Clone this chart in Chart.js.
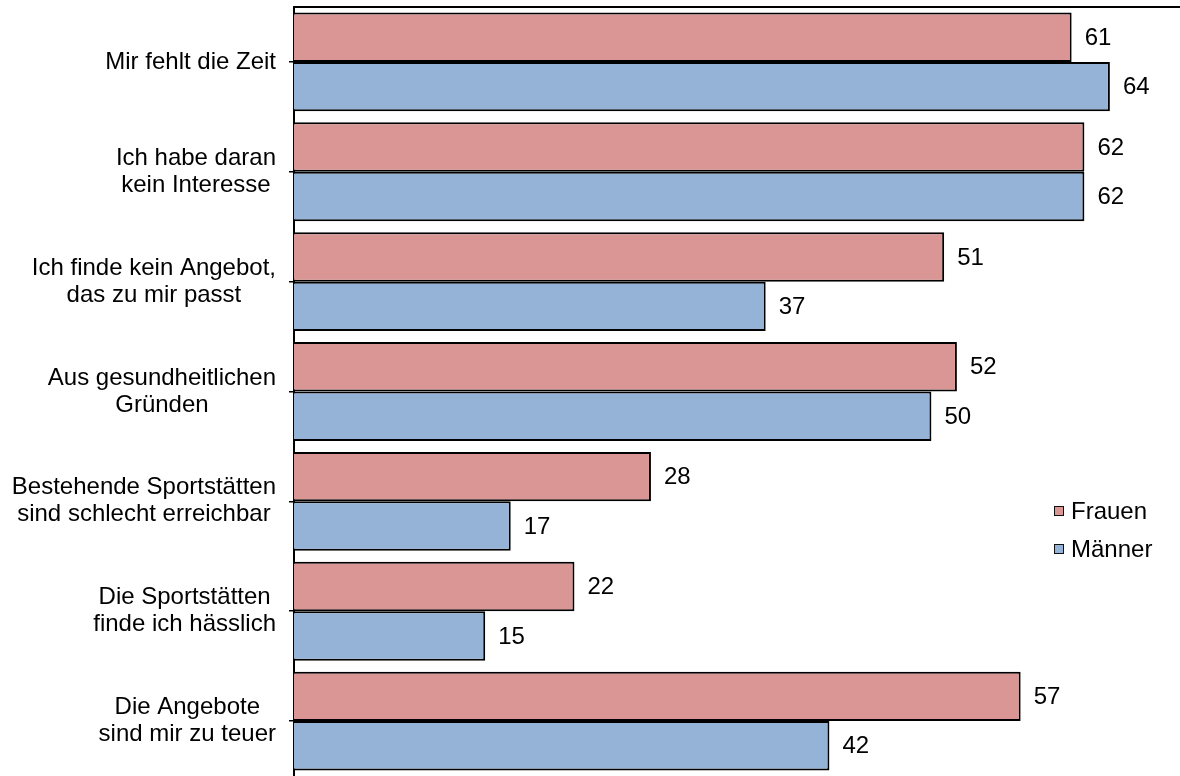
<!DOCTYPE html>
<html lang="de">
<head>
<meta charset="utf-8">
<title>Gründe gegen Sport</title>
<script src="https://cdn.jsdelivr.net/npm/chart.js@4/dist/chart.umd.min.js"></script>
<style>
  html, body { margin: 0; padding: 0; background: #fff; overflow: hidden; }
  #c { display: block; }
</style>
</head>
<body>
<canvas id="c" width="1180" height="776"></canvas>
<script>
// Reasons given, one entry per category (each entry is a list of label lines)
const categories = [
  ["Mir fehlt die Zeit"],
  ["Ich habe daran", "kein Interesse"],
  ["Ich finde kein Angebot,", "das zu mir passt"],
  ["Aus gesundheitlichen", "Gründen"],
  ["Bestehende Sportstätten", "sind schlecht erreichbar"],
  ["Die Sportstätten", "finde ich hässlich"],
  ["Die Angebote", "sind mir zu teuer"]
];
const seriesNames = ["Frauen", "Männer"];
const frauen = [61, 62, 51, 52, 28, 22, 57];
const maenner = [64, 62, 37, 50, 17, 15, 42];

const FONT = '"Liberation Sans", Arial, sans-serif';
const COLORS = ["#D99694", "#95B3D7"];

// Multi-line category labels: lines centred on each other, block right-aligned to the axis
const categoryLabels = {
  id: 'categoryLabels',
  afterDraw(chart) {
    const ctx = chart.ctx;
    const y = chart.scales.y;
    const right = 276;
    const lineH = 27;
    ctx.save();
    ctx.font = '24px ' + FONT;
    ctx.fillStyle = '#000';
    ctx.textAlign = 'center';
    ctx.textBaseline = 'middle';
    categories.forEach((lines, i) => {
      const cy = y.getPixelForTick(i);
      const maxW = Math.max(...lines.map(l => ctx.measureText(l).width));
      const cx = right - maxW / 2;
      const top = cy - (lines.length - 1) * lineH / 2;
      lines.forEach((l, k) => ctx.fillText(l, cx, top + k * lineH));
    });
    ctx.restore();
  }
};

// Value printed just past the end of each bar
const valueLabels = {
  id: 'valueLabels',
  afterDatasetsDraw(chart) {
    const ctx = chart.ctx;
    ctx.save();
    ctx.font = '24px ' + FONT;
    ctx.fillStyle = '#000';
    ctx.textAlign = 'left';
    ctx.textBaseline = 'middle';
    chart.data.datasets.forEach((ds, di) => {
      const meta = chart.getDatasetMeta(di);
      meta.data.forEach((bar, i) => {
        ctx.fillText(String(ds.data[i]), bar.x + 13, bar.y + 1);
      });
    });
    ctx.restore();
  }
};

// Small legend with square swatches inside the plot, lower right
const swatchLegend = {
  id: 'swatchLegend',
  afterDraw(chart) {
    const ctx = chart.ctx;
    const x0 = 1054, size = 10, textX = 1071;
    const ys = [511, 549];
    ctx.save();
    ctx.font = '24px ' + FONT;
    ctx.textAlign = 'left';
    ctx.textBaseline = 'middle';
    chart.data.datasets.forEach((ds, i) => {
      const cy = ys[i];
      ctx.fillStyle = ds.backgroundColor;
      ctx.fillRect(x0, cy - size / 2, size, size);
      ctx.strokeStyle = '#111';
      ctx.lineWidth = 1;
      ctx.strokeRect(x0 + 0.5, cy - size / 2 + 0.5, size - 1, size - 1);
      ctx.fillStyle = '#000';
      ctx.fillText(ds.label, textX, cy + 1);
    });
    ctx.restore();
  }
};

new Chart(document.getElementById('c'), {
  type: 'bar',
  data: {
    labels: categories,
    datasets: [
      {
        label: seriesNames[0],
        data: frauen,
        backgroundColor: COLORS[0],
        borderColor: '#000',
        borderWidth: 2,
        categoryPercentage: 0.9,
        barPercentage: 1.0
      },
      {
        label: seriesNames[1],
        data: maenner,
        backgroundColor: COLORS[1],
        borderColor: '#000',
        borderWidth: 2,
        categoryPercentage: 0.9,
        barPercentage: 1.0
      }
    ]
  },
  options: {
    indexAxis: 'y',
    responsive: false,
    animation: false,
    devicePixelRatio: 1,
    layout: { padding: 0 },
    plugins: {
      legend: { display: false },
      tooltip: { enabled: false }
    },
    scales: {
      x: {
        position: 'top',
        min: 0,
        max: 69.5,
        grid: { display: false },
        border: { display: true, color: '#000', width: 2 },
        ticks: { display: false },
        afterFit(s) { s.height = 7; }
      },
      y: {
        type: 'category',
        offset: true,
        grid: {
          display: true,
          drawOnChartArea: false,
          offset: false,
          drawTicks: true,
          tickLength: 5,
          color: '#000',
          lineWidth: 1.5
        },
        border: { display: true, color: '#000', width: 2 },
        ticks: { display: false },
        afterFit(s) { s.width = 294; }
      }
    }
  },
  plugins: [categoryLabels, valueLabels, swatchLegend]
});
</script>
</body>
</html>
